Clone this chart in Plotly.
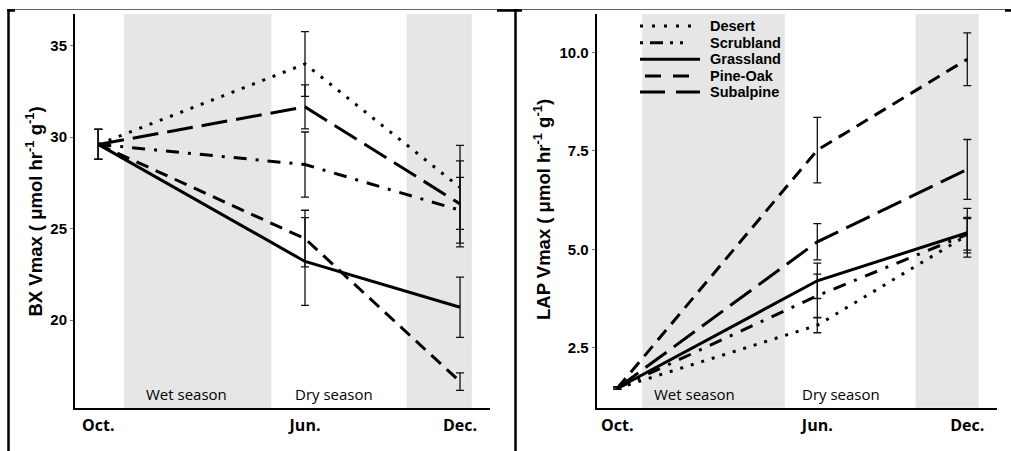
import plotly.graph_objects as go

W, H = 1011, 451

# ---------------- data ----------------
months = [0, 8, 14]                      # Oct., Jun., Dec. (months since October)
month_labels = ["Oct.", "Jun.", "Dec."]
sites = ["Desert", "Scrubland", "Grassland", "Pine-Oak", "Subalpine"]

# BX Vmax means and standard errors
bx_desert = [29.6, 34.0, 27.25]
bx_scrub = [29.6, 28.5, 26.0]
bx_grass = [29.6, 23.2, 20.7]
bx_pine = [29.6, 24.45, 16.63]
bx_subalp = [29.6, 31.65, 26.35]
bx_desert_se = [0.82, 1.77, 2.3]
bx_scrub_se = [0.82, 1.78, 1.8]
bx_grass_se = [0.82, 2.4, 1.65]
bx_pine_se = [0.82, 1.55, 0.48]
bx_subalp_se = [0.82, 1.2, 2.35]

# LAP Vmax means and standard errors
lap_desert = [1.47, 3.07, 5.36]
lap_scrub = [1.47, 3.82, 5.38]
lap_grass = [1.47, 4.2, 5.42]
lap_pine = [1.47, 7.52, 9.83]
lap_subalp = [1.47, 5.19, 7.03]
lap_desert_se = [0.03, 0.19, 0.45]
lap_scrub_se = [0.03, 0.55, 0.4]
lap_grass_se = [0.03, 0.45, 0.62]
lap_pine_se = [0.03, 0.83, 0.67]
lap_subalp_se = [0.03, 0.46, 0.76]

# season shading (months since October)
wet_season = [1.0, 6.7]
dec_period = [11.93, 14.46]
season_labels = ["Wet season", "Dry season"]

bx_ticks = [20, 25, 30, 35]
lap_ticks = [2.5, 5.0, 7.5, 10.0]

# ---------------- styles ----------------
dashes = {
    "Desert": "3px,8px",
    "Scrubland": "13px,9px,3px,9px",
    "Grassland": "solid",
    "Pine-Oak": "13px,8px",
    "Subalpine": "26px,9px",
}
legend_dashes = {
    "Desert": "3px,9px",
    "Scrubland": "3px,7px,13px,7px,3px,7px,3px,20px",
    "Grassland": "solid",
    "Pine-Oak": "0px,5px,16px,12px,16px,20px",
    "Subalpine": "25px,11px",
}

bx_means = [bx_desert, bx_scrub, bx_grass, bx_pine, bx_subalp]
bx_ses = [bx_desert_se, bx_scrub_se, bx_grass_se, bx_pine_se, bx_subalp_se]
lap_means = [lap_desert, lap_scrub, lap_grass, lap_pine, lap_subalp]
lap_ses = [lap_desert_se, lap_scrub_se, lap_grass_se, lap_pine_se, lap_subalp_se]

fig = go.Figure()

for name, m, se in zip(sites, bx_means, bx_ses):
    fig.add_trace(go.Scatter(
        x=months, y=m, mode="lines", name=name, showlegend=False,
        line=dict(color="black", width=3, dash=dashes[name]),
        error_y=dict(type="data", array=se, visible=True, color="#111",
                     thickness=1.3, width=4),
        xaxis="x", yaxis="y"))

for name, m, se in zip(sites, lap_means, lap_ses):
    fig.add_trace(go.Scatter(
        x=months, y=m, mode="lines", name=name, showlegend=False,
        line=dict(color="black", width=3, dash=dashes[name]),
        error_y=dict(type="data", array=se, visible=True, color="#111",
                     thickness=1.3, width=4),
        xaxis="x2", yaxis="y2"))

def px_x(p):
    return p / W

def px_y(p):
    return 1 - p / H

shapes = []
for xr, yr in (("x", "y domain"), ("x2", "y2 domain")):
    for span in (wet_season, dec_period):
        shapes.append(dict(type="rect", xref=xr, yref=yr, x0=span[0], x1=span[1],
                           y0=0, y1=1, fillcolor="#e6e6e6", line=dict(width=0),
                           layer="below"))

# table-like border lines
shapes += [
    dict(type="line", xref="paper", yref="paper", x0=px_x(8), x1=1, y0=px_y(9.5), y1=px_y(9.5),
         line=dict(color="#666", width=1)),
    dict(type="line", xref="paper", yref="paper", x0=px_x(8.5), x1=px_x(8.5), y0=px_y(9), y1=0,
         line=dict(color="black", width=2.5)),
    dict(type="line", xref="paper", yref="paper", x0=px_x(515.5), x1=px_x(515.5), y0=px_y(9), y1=0,
         line=dict(color="black", width=2.5)),
    dict(type="line", xref="paper", yref="paper", x0=px_x(7), x1=px_x(15), y0=px_y(10.5), y1=px_y(10.5),
         line=dict(color="black", width=2.5)),
    dict(type="line", xref="paper", yref="paper", x0=px_x(497), x1=px_x(522), y0=px_y(10.5), y1=px_y(10.5),
         line=dict(color="black", width=2.5)),
    dict(type="line", xref="paper", yref="paper", x0=px_x(1005), x1=1, y0=px_y(10.5), y1=px_y(10.5),
         line=dict(color="black", width=2.5)),
]

tick_font = dict(family="Liberation Sans, Arial", size=15, color="black", weight="bold")
xlab_font = dict(family="Open Sans", size=16, color="black", weight="bold")

axis_common = dict(showgrid=False, zeroline=False, showline=True, linecolor="black",
                   linewidth=2)

annotations = [
    dict(text="BX Vmax ( μmol hr<sup>-1</sup> g<sup>-1</sup>)", xref="paper", yref="paper",
         x=px_x(34.5), y=px_y(212), textangle=-90, showarrow=False,
         font=dict(family="Liberation Sans, Arial", size=18.5, color="black", weight="bold"),
         xanchor="center", yanchor="middle"),
    dict(text="LAP Vmax ( μmol hr<sup>-1</sup> g<sup>-1</sup>)", xref="paper", yref="paper",
         x=px_x(542), y=px_y(210), textangle=-90, showarrow=False,
         font=dict(family="Liberation Sans, Arial", size=18.5, color="black", weight="bold"),
         xanchor="center", yanchor="middle"),
]
label_pos = {"x": [3.43, 9.12], "x2": [3.1, 8.96]}
for xr, pos in label_pos.items():
    for lbl, xp in zip(season_labels, pos):
        annotations.append(dict(text=lbl, xref=xr, yref="paper", x=xp, y=px_y(394),
                                showarrow=False, xanchor="center", yanchor="middle",
                                font=dict(family="Open Sans", size=15, color="black")))

# legend (drawn as key lines + labels in the right panel)
legend_rows = [26, 42.7, 59.3, 76, 92]
for name, ry in zip(sites, legend_rows):
    shapes.append(dict(type="line", xref="paper", yref="paper",
                       x0=px_x(640), x1=px_x(700), y0=px_y(ry), y1=px_y(ry),
                       line=dict(color="black", width=3, dash=legend_dashes[name])))
    annotations.append(dict(text=name, xref="paper", yref="paper", x=px_x(708), y=px_y(ry),
                            xanchor="left", yanchor="middle", showarrow=False,
                            font=dict(family="Liberation Sans, Arial", size=14.5,
                                      color="black", weight="bold")))

fig.update_layout(
    width=W, height=H, margin=dict(l=0, r=0, t=0, b=0),
    paper_bgcolor="white", plot_bgcolor="rgba(0,0,0,0)",
    xaxis=dict(domain=[px_x(75), px_x(490)], range=[-0.902, 15.16], anchor="y",
               tickvals=months, ticktext=month_labels, ticks="", tickfont=xlab_font,
               ticklabelstandoff=2, **axis_common),
    yaxis=dict(domain=[px_y(408), px_y(14)], range=[15.19, 36.73], anchor="x",
               tickvals=bx_ticks, ticks="outside", ticklen=3, tickcolor="#777",
               tickfont=tick_font, **axis_common),
    xaxis2=dict(domain=[px_x(596.7), px_x(997.3)], range=[-0.824, 15.2], anchor="y2",
                tickvals=months, ticktext=month_labels, ticks="", tickfont=xlab_font,
                ticklabelstandoff=2, **axis_common),
    yaxis2=dict(domain=[px_y(407.7), px_y(14)], range=[0.976, 10.978], anchor="x2",
                tickvals=lap_ticks, tickformat=".1f", ticks="outside", ticklen=3,
                tickcolor="#777", tickfont=tick_font, **axis_common),
    shapes=shapes,
    annotations=annotations,
    showlegend=False,
)

fig.write_html("out.html")
